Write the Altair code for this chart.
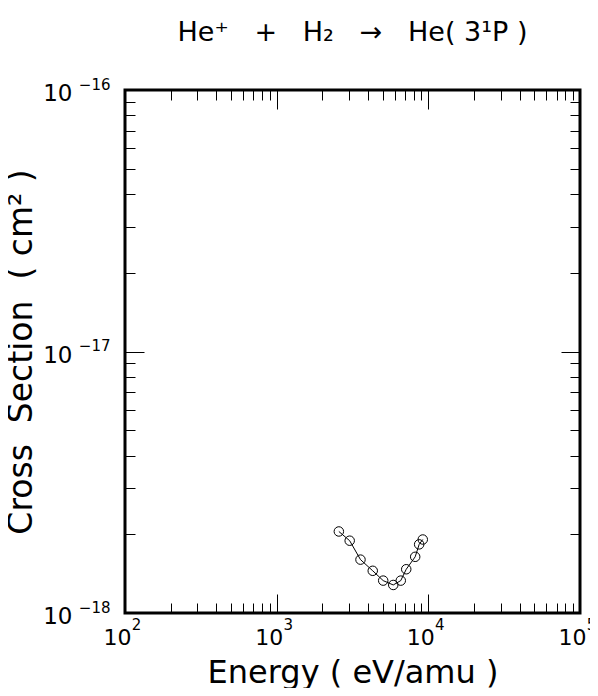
import altair as alt
import pandas as pd

# ---- data ----
energy = [2570, 3030, 3570, 4300, 5040, 5870, 6580, 7150, 8190, 8700, 9190]
cross_section = [2.05e-18, 1.89e-18, 1.60e-18, 1.45e-18, 1.33e-18, 1.28e-18,
                 1.33e-18, 1.47e-18, 1.64e-18, 1.83e-18, 1.91e-18]

x_major = [1e2, 1e3, 1e4, 1e5]
x_minor = [m * 10.0 ** d for d in (2, 3, 4) for m in range(2, 10)]
x_exponents = [2, 3, 4, 5]
x_exp_labels = ["2", "3", "4", "5"]

y_major = [1e-18, 1e-17, 1e-16]
y_minor = [m * 10.0 ** d for d in (-18, -17) for m in range(2, 10)]
y_exponents = [-18, -17, -16]
y_exp_labels = ["\u221218", "\u221217", "\u221216"]

tick_base = "10"
NB = "\u00a0"
title_text = f"He\u207a{NB*3}+{NB*3}H\u2082{NB*3}\u2192{NB*3}He({NB}3\u00b9P{NB})"
x_title = f"Energy{NB}({NB}eV/amu{NB})"
y_title = f"Cross{NB*2}Section{NB*2}({NB}cm\u00b2{NB})"

df = pd.DataFrame({"E": energy, "S": cross_section})

W, H = 455, 523
FONT = "DejaVu Sans"
MAJOR, MINOR = 19, 10


def label_expr(exps, labels):
    expr = "''"
    for e, l in zip(exps, labels):
        expr = f"round(log(datum.value)/LN10) == {e} ? '{l}' : ({expr})"
    return expr


xs = alt.Scale(type="log", domain=[1e2, 1e5], nice=False)
ys = alt.Scale(type="log", domain=[1e-18, 1e-16], nice=False)


def tick_axis(orient, offset, values, size):
    return alt.Axis(orient=orient, offset=offset, values=values, tickSize=size,
                    labels=False, domain=False, grid=False, ticks=True,
                    tickColor="black", tickWidth=1)


def label_axis(orient, values, expr, size, padding, offset, align=None, **kw):
    args = dict(orient=orient, values=values, labelExpr=expr, ticks=False,
                domain=False, grid=False, labelFont=FONT, labelFontSize=size,
                labelColor="black", labelPadding=padding, labelFlush=False,
                labelOverlap=False, labelOffset=offset, labelBaseline="middle")
    if align:
        args["labelAlign"] = align
    args.update(kw)
    return alt.Axis(**args)


def enc(xaxis, yaxis):
    return dict(
        x=alt.X("E:Q", scale=xs, axis=xaxis, title=None),
        y=alt.Y("S:Q", scale=ys, axis=yaxis, title=None),
    )


base = alt.Chart(df)

line = base.mark_line(color="black", strokeWidth=1).encode(
    **enc(tick_axis("top", -H, x_major, MAJOR), tick_axis("right", -W, y_major, MAJOR))
)
points = base.mark_point(shape="circle", filled=False, color="black", size=90,
                         strokeWidth=1, opacity=1).encode(
    **enc(tick_axis("top", -H, x_minor, MINOR), tick_axis("right", -W, y_minor, MINOR))
)
top_major = base.mark_point(opacity=0).encode(
    **enc(tick_axis("bottom", -H, x_major, MAJOR), tick_axis("left", -W, y_major, MAJOR))
)
top_minor = base.mark_point(opacity=0).encode(
    **enc(tick_axis("bottom", -H, x_minor, MINOR), tick_axis("left", -W, y_minor, MINOR))
)

x_base_axis = label_axis(
    "bottom", x_major, f"'{tick_base}'", 22, 24, -8,
    title=x_title, titleFont=FONT, titleFontSize=32, titleFontWeight="normal",
    titleColor="black", titleY=69, titleBaseline="alphabetic",
)
y_base_axis = label_axis(
    "left", y_major, f"'{tick_base}'", 23, 53, 3.5, align="right",
    title=y_title, titleFont=FONT, titleFontSize=33, titleFontWeight="normal",
    titleColor="black", titleX=-104, titleBaseline="middle",
)
x_exp_axis = label_axis("bottom", x_major, label_expr(x_exponents, x_exp_labels),
                        15, 11, 11)
y_exp_axis = label_axis("left", y_major, label_expr(y_exponents, y_exp_labels),
                        15, 15, -6, align="right")

labels_base = base.mark_point(opacity=0).encode(
    x=alt.X("E:Q", scale=xs, axis=x_base_axis),
    y=alt.Y("S:Q", scale=ys, axis=y_base_axis),
)
labels_exp = base.mark_point(opacity=0).encode(**enc(x_exp_axis, y_exp_axis))

chart = alt.layer(line, points, top_major, top_minor, labels_base, labels_exp).resolve_axis(
    x="independent", y="independent"
).properties(
    width=W, height=H,
    title=alt.TitleParams(text=title_text, font=FONT, fontSize=27, fontWeight="normal",
                          anchor="middle", frame="group", offset=9,
                          baseline="alphabetic", color="black"),
    autosize=alt.AutoSizeParams(type="none"),
    padding={"left": 117, "top": 82, "right": 10, "bottom": 75},
    background="white",
).configure_view(stroke="black", strokeWidth=3)

chart.save("out.html", embed_options={"renderer": "svg", "actions": False})
